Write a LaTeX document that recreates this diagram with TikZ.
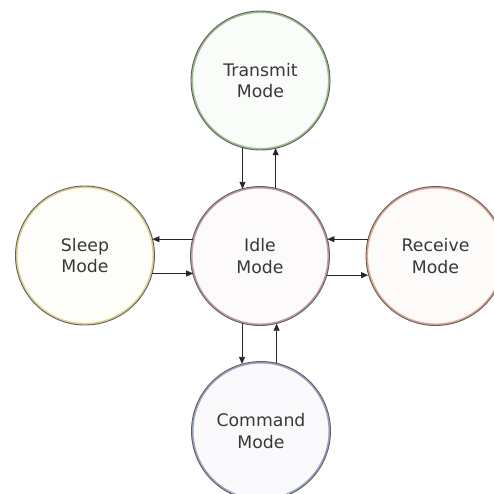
\documentclass[tikz,border=0pt]{standalone}
\usepackage{fontspec}
\setmainfont{DejaVu Sans}
\usetikzlibrary{arrows.meta}
\definecolor{txt}{HTML}{383838}
\definecolor{cT}{HTML}{9DBB8A}
\definecolor{cI}{HTML}{C097AE}
\definecolor{cS}{HTML}{DDD08E}
\definecolor{cR}{HTML}{DDA68C}
\definecolor{cC}{HTML}{98A2C2}
\definecolor{ol}{HTML}{606060}
\tikzset{
  ring/.style={circle, minimum size=137pt, inner sep=0pt, draw=#1, line width=2pt, fill=#1!5,
    text=txt, align=center, font=\fontsize{17.3}{21.5}\selectfont},
  outline/.style={draw=ol, line width=0.9pt},
  arr/.style={draw=black!85, line width=0.8pt, -{Triangle[length=7pt,width=6pt]}}
}
\begin{document}
\begin{tikzpicture}[x=1pt,y=-1pt]
\useasboundingbox (0,0) rectangle (494,493);
\node[ring=cT] (T) at (260.5,80.5) {Transmit\\Mode};
\node[ring=cI] (I) at (260,256) {Idle\\Mode};
\node[ring=cS] (S) at (85,255.5) {Sleep\\Mode};
\node[ring=cR] (R) at (435.5,256) {Receive\\Mode};
\node[ring=cC] (C) at (261,431) {Command\\Mode};
\foreach \n in {T,I,S,R,C} {\draw[outline] (\n.center) circle (69.5);}
% Transmit <-> Idle
\draw[arr] (T.255) -- (T.255 |- I.105);
\draw[arr] (I.77) -- (I.77 |- T.283);
% Sleep <-> Idle
\draw[arr] (I.166) -- (I.166 -| S.14);
\draw[arr] (S.-15) -- (S.-15 -| I.196);
% Receive <-> Idle
\draw[arr] (R.166) -- (R.166 -| I.14);
\draw[arr] (I.-16) -- (I.-16 -| R.194);
% Command <-> Idle
\draw[arr] (I.255) -- (I.255 |- C.105);
\draw[arr] (C.77) -- (C.77 |- I.283);
\end{tikzpicture}
\end{document}
